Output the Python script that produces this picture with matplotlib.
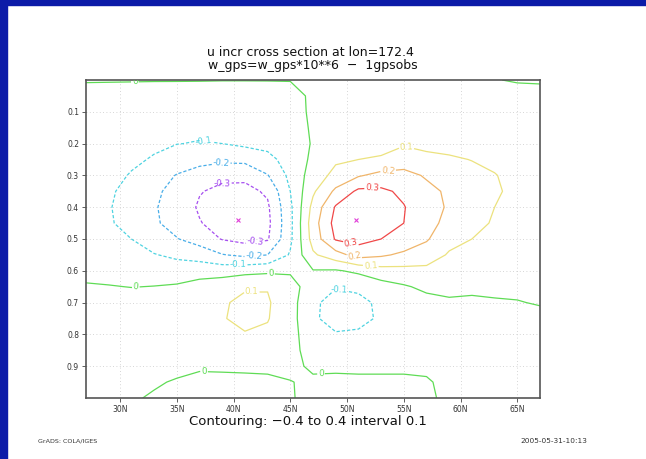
import numpy as np
import matplotlib
matplotlib.use("Agg")
import matplotlib.pyplot as plt
from matplotlib.patches import Rectangle

# grid of the cross section: latitude (deg N) by vertical coordinate
lats = np.arange(27, 68, 2)
levs = np.linspace(0.0, 1.0, 21)

# u increment profiles, one list per latitude, top (0.0) to bottom (1.0)
u_incr_by_lat = [
    [0.003, -0.015, -0.03, -0.04, -0.05, -0.058, -0.065, -0.07, -0.075, -0.073, -0.065, -0.05, -0.025, 0.008, 0.03, 0.04, 0.045, 0.04, 0.03, 0.02, 0.015],
    [0.003, -0.018, -0.036, -0.05, -0.062, -0.073, -0.083, -0.091, -0.095, -0.092, -0.082, -0.062, -0.032, 0.004, 0.033, 0.046, 0.05, 0.045, 0.034, 0.024, 0.018],
    [0.003, -0.022, -0.045, -0.062, -0.077, -0.09, -0.104, -0.12, -0.13, -0.125, -0.1, -0.07, -0.036, -0.002, 0.038, 0.056, 0.06, 0.052, 0.036, 0.02, 0.01],
    [0.003, -0.028, -0.055, -0.075, -0.09, -0.105, -0.15, -0.18, -0.19, -0.185, -0.15, -0.095, -0.045, 0.002, 0.05, 0.068, 0.07, 0.06, 0.035, 0.01, -0.01],
    [0.003, -0.03, -0.06, -0.08, -0.098, -0.145, -0.205, -0.235, -0.25, -0.24, -0.195, -0.12, -0.05, 0.01, 0.06, 0.078, 0.078, 0.06, 0.025, -0.008, -0.02],
    [0.003, -0.035, -0.065, -0.08, -0.105, -0.17, -0.24, -0.295, -0.31, -0.295, -0.245, -0.14, -0.045, 0.04, 0.07, 0.085, 0.08, 0.05, 0.01, -0.02, -0.025],
    [0.002, -0.035, -0.065, -0.085, -0.1, -0.178, -0.28, -0.32, -0.34, -0.335, -0.305, -0.195, -0.04, 0.055, 0.09, 0.095, 0.085, 0.055, 0.012, -0.02, -0.03],
    [0.002, -0.035, -0.062, -0.075, -0.08, -0.175, -0.275, -0.33, -0.35, -0.35, -0.33, -0.22, -0.03, 0.09, 0.12, 0.12, 0.095, 0.06, 0.015, -0.02, -0.03],
    [0.002, -0.03, -0.055, -0.07, -0.075, -0.125, -0.205, -0.285, -0.315, -0.325, -0.31, -0.2, -0.02, 0.095, 0.11, 0.105, 0.085, 0.055, 0.015, -0.015, -0.025],
    [0.002, -0.02, -0.035, -0.045, -0.055, -0.065, -0.075, -0.1, -0.12, -0.125, -0.12, -0.09, -0.01, 0.03, 0.04, 0.04, 0.035, 0.03, 0.015, -0.002, -0.004],
    [0.004, 0.01, 0.015, 0.012, 0.008, 0.02, 0.045, 0.085, 0.13, 0.155, 0.14, 0.085, -0.005, -0.04, -0.085, -0.09, -0.06, -0.04, -0.01, 0.01, 0.015],
    [0.005, 0.02, 0.03, 0.04, 0.055, 0.085, 0.13, 0.22, 0.31, 0.335, 0.31, 0.16, -0.01, -0.095, -0.13, -0.125, -0.095, -0.06, -0.012, 0.015, 0.02],
    [0.01, 0.025, 0.04, 0.055, 0.07, 0.1, 0.19, 0.32, 0.35, 0.355, 0.335, 0.24, 0.02, -0.085, -0.12, -0.12, -0.09, -0.055, -0.015, 0.015, 0.02],
    [0.01, 0.025, 0.045, 0.06, 0.07, 0.11, 0.23, 0.32, 0.33, 0.33, 0.3, 0.215, 0.06, -0.04, -0.085, -0.09, -0.075, -0.05, -0.015, 0.015, 0.02],
    [0.01, 0.025, 0.045, 0.065, 0.09, 0.15, 0.23, 0.28, 0.305, 0.3, 0.27, 0.18, 0.07, -0.01, -0.04, -0.05, -0.045, -0.035, -0.01, 0.01, 0.015],
    [0.01, 0.025, 0.045, 0.065, 0.08, 0.12, 0.19, 0.225, 0.235, 0.235, 0.21, 0.15, 0.075, 0.02, -0.03, -0.04, -0.04, -0.035, -0.015, 0.008, 0.012],
    [0.008, 0.02, 0.04, 0.055, 0.075, 0.11, 0.15, 0.185, 0.19, 0.17, 0.13, 0.09, 0.055, 0.02, -0.01, -0.03, -0.04, -0.04, -0.035, -0.02, -0.015],
    [0.005, 0.02, 0.035, 0.05, 0.075, 0.098, 0.12, 0.135, 0.14, 0.13, 0.1, 0.07, 0.04, 0.012, -0.01, -0.03, -0.04, -0.04, -0.035, -0.03, -0.025],
    [0.002, 0.02, 0.035, 0.05, 0.065, 0.085, 0.103, 0.108, 0.1, 0.09, 0.075, 0.055, 0.035, 0.012, -0.005, -0.025, -0.035, -0.038, -0.035, -0.03, -0.025],
    [-0.004, 0.018, 0.03, 0.045, 0.058, 0.07, 0.08, 0.085, 0.083, 0.077, 0.065, 0.048, 0.028, 0.01, -0.002, -0.022, -0.033, -0.035, -0.03, -0.025, -0.02],
    [-0.005, 0.015, 0.025, 0.038, 0.048, 0.057, 0.065, 0.068, 0.067, 0.062, 0.052, 0.038, 0.022, 0.008, 0.003, -0.012, -0.028, -0.03, -0.025, -0.02, -0.018],
]

# extremes marked in the field (min, max)
ext_lat = [40.4, 50.8]
ext_lev = [0.44, 0.44]

neg_levels = [-0.3, -0.2, -0.1]
zero_level = [0.0]
pos_levels = [0.1, 0.2, 0.3]
neg_colors = ['#a64ff0', '#4aaee8', '#4fd3e0']
zero_color = '#5fdc55'
pos_colors = ['#ece27e', '#f0b56a', '#f04848']

x_ticks = [30, 35, 40, 45, 50, 55, 60, 65]
x_ticklabels = ['30N', '35N', '40N', '45N', '50N', '55N', '60N', '65N']
y_ticks = [0.1, 0.2, 0.3, 0.4, 0.5, 0.6, 0.7, 0.8, 0.9]

u_incr = np.array(u_incr_by_lat).T

plt.rcParams['lines.dashed_pattern'] = [2.6, 1.6]

fig = plt.figure(figsize=(6.46, 4.59), dpi=100)
ax = fig.add_axes([86/646, 1 - 398/459, 454/646, 318/459])

cs_neg = ax.contour(lats, levs, u_incr, levels=neg_levels, colors=neg_colors,
                    linewidths=0.9, linestyles='dashed')
cs_zero = ax.contour(lats, levs, u_incr, levels=zero_level, colors=zero_color,
                     linewidths=0.9, linestyles='solid')
cs_pos = ax.contour(lats, levs, u_incr, levels=pos_levels, colors=pos_colors,
                    linewidths=0.9, linestyles='solid')

fmt = lambda v: '0' if abs(v) < 1e-9 else '%.1f' % v
ax.clabel(cs_neg, fmt=fmt, fontsize=6.3, inline=True, inline_spacing=1,
          manual=[(37.4, 0.19), (40.4, 0.58), (38.9, 0.26), (41.8, 0.56),
                  (38.9, 0.315), (42.0, 0.53), (49.4, 0.647)])
ax.clabel(cs_zero, fmt=fmt, fontsize=6.3, inline=True, inline_spacing=1,
          manual=[(31.3, 0.005), (31.4, 0.657), (43.3, 0.607),
                  (47.7, 0.92), (37.4, 0.916)])
ax.clabel(cs_pos, fmt=fmt, fontsize=6.3, inline=True, inline_spacing=1,
          manual=[(55.2, 0.214), (52.1, 0.58), (53.6, 0.277), (50.6, 0.56),
                  (52.2, 0.325), (50.3, 0.52), (41.6, 0.656)])

ax.plot(ext_lat, ext_lev, linestyle='none', marker='x', markersize=2.2,
        markeredgewidth=0.8, color='#e040d8')

ax.set_xlim(27, 67)
ax.set_ylim(1.0, 0.0)
ax.set_xticks(x_ticks)
ax.set_xticklabels(x_ticklabels)
ax.set_yticks(y_ticks)
ax.set_yticklabels(['%.1f' % v for v in y_ticks])
ax.tick_params(labelsize=5.5, length=3, width=0.6, color='#444444',
               labelcolor='#333333', pad=2)
ax.grid(True, linestyle=(0, (1, 3)), linewidth=0.6, color='#c8c8c8')
for sp in ax.spines.values():
    sp.set_linewidth(1.2)
    sp.set_color('#555555')

fig.text(0.480, 1 - 52/459, 'u incr cross section at lon=172.4', ha='center',
         va='center', fontsize=9, color='#111111')
fig.text(0.485, 1 - 65/459, 'w_gps=w_gps*10**6  \u2212  1gpsobs', ha='center',
         va='center', fontsize=9, color='#111111')
fig.text(308/646, 1 - 422/459, 'Contouring: \u22120.4 to 0.4 interval 0.1',
         ha='center', va='center', fontsize=9.5, color='#111111')
fig.text(38/646, 1 - 441/459, 'GrADS: COLA/IGES', ha='left', va='center',
         fontsize=4.6, color='#333333')
fig.text(587/646, 1 - 441/459, '2005-05-31-10:13', ha='right', va='center',
         fontsize=5.3, color='#333333')

# blue slide border along the top and left
fig.add_artist(Rectangle((0, 0), 7/646, 1, transform=fig.transFigure,
                         color='#0c1ba8', zorder=10))
fig.add_artist(Rectangle((0, 1 - 5/459), 1, 5/459, transform=fig.transFigure,
                         color='#0c1ba8', zorder=10))

fig.savefig('out.png', dpi=100)
